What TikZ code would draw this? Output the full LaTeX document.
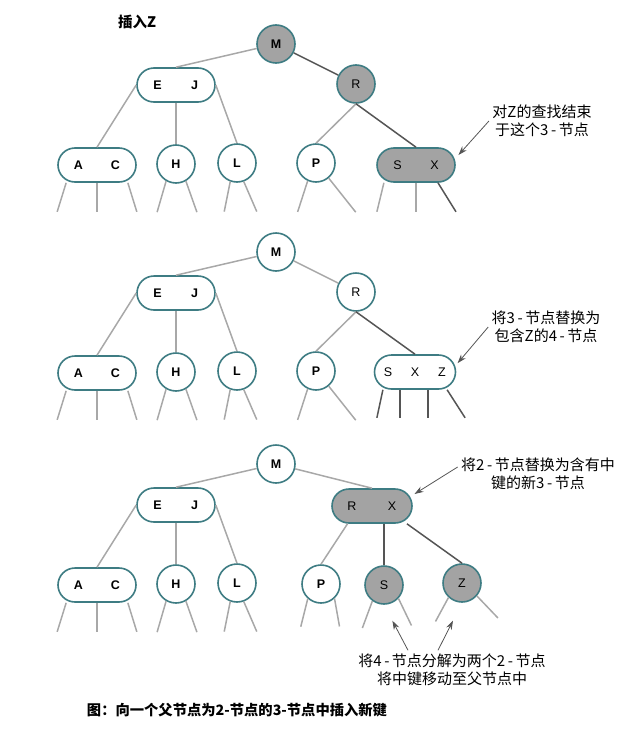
\documentclass[tikz,border=0pt]{standalone}
\usepackage{fontspec}
\setmainfont{Liberation Sans}
\newfontfamily\cjk{Noto Sans CJK SC}
\usetikzlibrary{arrows.meta}
\definecolor{rim}{HTML}{3E7C83}
\definecolor{shade}{HTML}{A3A3A3}
\definecolor{faint}{HTML}{A8A8A8}
\definecolor{deep}{HTML}{555555}
\tikzset{
  two/.style={circle, draw=rim, line width=1.6pt, fill=white, minimum size=38pt,
    inner sep=0pt, font=\fontsize{12.5}{14}\selectfont},
  three/.style={rectangle, rounded corners=17pt, draw=rim, line width=1.6pt, fill=white,
    minimum width=78pt, minimum height=34pt, inner sep=0pt, font=\fontsize{12.5}{14}\selectfont},
  hot/.style={fill=shade},
  plain/.style={},
  faintedge/.style={faint, line width=1.5pt},
  deepedge/.style={deep, line width=1.5pt},
  note/.style={font=\cjk\fontsize{15}{18.5}\selectfont, align=center},
  pointer/.style={-{Stealth[length=9pt,width=6pt]}, deep, line width=0.8pt},
}
\newcommand\kk[1]{\makebox[37pt]{#1}}
\newcommand\dash{\,-\,}
% a short child link with a loose end below a node
\newcommand\stub[5][faintedge]{%
  \coordinate (#2 end #3) at ([shift={(#4,#5)}]#2.#3);
  \draw[#1] (#2.#3) -- (#2 end #3);}
\begin{document}
\begin{tikzpicture}[x=1pt, y=-1pt]
  \useasboundingbox (0,0) rectangle (643,739);
  \node[font=\cjk\bfseries\fontsize{14.5}{16}\selectfont] (title) at (137,22) {插入Z};

  % left part, the same in all three steps
  \foreach \p/\oy/\mk in {1/0/hot, 2/208/plain, 3/420/plain} {
    \begin{scope}[yshift={-\oy pt}]
      \draw
        (276,44) node[two, \mk] (m\p) {\textbf{M}}
        (176,85) node[three] (ej\p) {\textbf{\kk{E}\kk{J}}}
        (97,165) node[three] (ac\p) {\textbf{\kk{A}\kk{C}}}
        (176,164) node[two] (h\p) {\textbf{H}}
        (237,163) node[two] (l\p) {\textbf{L}};
    \end{scope}
    \draw[faintedge] (m\p) -- (ej\p.north);
    \draw[faintedge] (ej\p.west) -- (ac\p.north);
    \draw[faintedge] (ej\p.south) -- (h\p.north);
    \draw[faintedge] (ej\p.east) -- (l\p.north);
    \stub{ac\p}{-150}{-9}{29}
    \stub{ac\p}{south}{0}{29}
    \stub{ac\p}{-30}{9}{29}
    \stub{h\p}{-120}{-9}{31}
    \stub{h\p}{-60}{11}{31}
    \stub{l\p}{-110}{-6}{30}
    \stub{l\p}{-70}{13}{30}
  }

  % step 1: search ends at the 3-node
  \draw
    (356,84) node[two, hot] (r1) {R}
    (316,163) node[two] (p1) {\textbf{P}}
    (416,165) node[three, hot] (sx1) {\kk{S}\kk{X}};
  \draw[deepedge] (m1) -- (r1);
  \draw[faintedge] (r1.south) -- (p1.north);
  \draw[deepedge] (r1.south) -- (sx1.north);
  \stub{p1}{-115}{-10}{31}
  \stub{p1}{-50}{27}{34}
  \stub{sx1}{-151}{-7}{29}
  \stub{sx1}{south}{0}{29}
  \stub[deepedge]{sx1}{-39}{18}{29}

  % step 2: temporary 4-node
  \draw
    (356,292) node[two] (r2) {R}
    (316,371) node[two] (p2) {\textbf{P}}
    (415,372) node[three] (sxz2) {\makebox[27pt]{S}\makebox[27pt]{X}\makebox[27pt]{Z}};
  \draw[faintedge] (m2) -- (r2);
  \draw[faintedge] (r2.south) -- (p2.north);
  \draw[deepedge] (r2.south) -- (sxz2.north);
  \stub{p2}{-115}{-10}{31}
  \stub{p2}{-50}{27}{34}
  \stub[deepedge]{sxz2}{-151}{-6}{28}
  \stub[deepedge]{sxz2}{-130}{0}{28}
  \stub[deepedge]{sxz2}{-54}{0}{28}
  \stub[deepedge]{sxz2}{-29}{18}{28}

  % step 3: split, middle key goes up
  \draw
    (372,506) node[three, hot] (rx3) {\makebox[40pt]{R}\makebox[40pt]{X}}
    (321,584) node[two] (p3) {\textbf{P}}
    (384,585) node[two, hot] (s3) {S}
    (462,583) node[two, hot] (z3) {Z};
  \draw[faintedge] (m3) -- (rx3.north);
  \draw[faintedge] (rx3.-144) -- (p3.north);
  \draw[deepedge] (s3 |- rx3.south) -- (s3);
  \draw[deepedge] (rx3.-27) -- (z3.north);
  \stub{p3}{-132}{-7}{28}
  \stub{p3}{-47}{5}{28}
  \stub{s3}{-126}{-10}{27}
  \stub{s3}{-43}{13}{27}
  \stub{z3}{-133}{-13}{24}
  \stub{z3}{-41}{21}{22}

  % remarks
  \node[note] (note1) at (542,121) {对Z的查找结束\\于这个3\dash 节点};
  \node[note] (note2) at (546,327) {将3\dash 节点替换为\\包含Z的4\dash 节点};
  \node[note] (note3) at (538,474) {将2\dash 节点替换为含有中\\键的新3\dash 节点};
  \node[note] (note4) at (452,670) {将4\dash 节点分解为两个2\dash 节点\\将中键移动至父节点中};
  \draw[pointer, shorten >=4pt] (note1.west) -- (sx1.10);
  \draw[pointer, shorten >=2pt] (note2.west) -- (sxz2.10);
  \draw[pointer, shorten >=2pt] (note3.175) -- (rx3.15);
  \draw[pointer, shorten >=18pt] ([xshift=-44pt]note4.north) -- (s3.south);
  \draw[pointer, shorten >=20pt] ([xshift=-14pt]note4.north) -- (z3.south);

  \node[font=\cjk\bfseries\fontsize{14.3}{16}\selectfont] (caption) at (237,710)
    {图：向一个父节点为2-节点的3-节点中插入新键};
\end{tikzpicture}
\end{document}
